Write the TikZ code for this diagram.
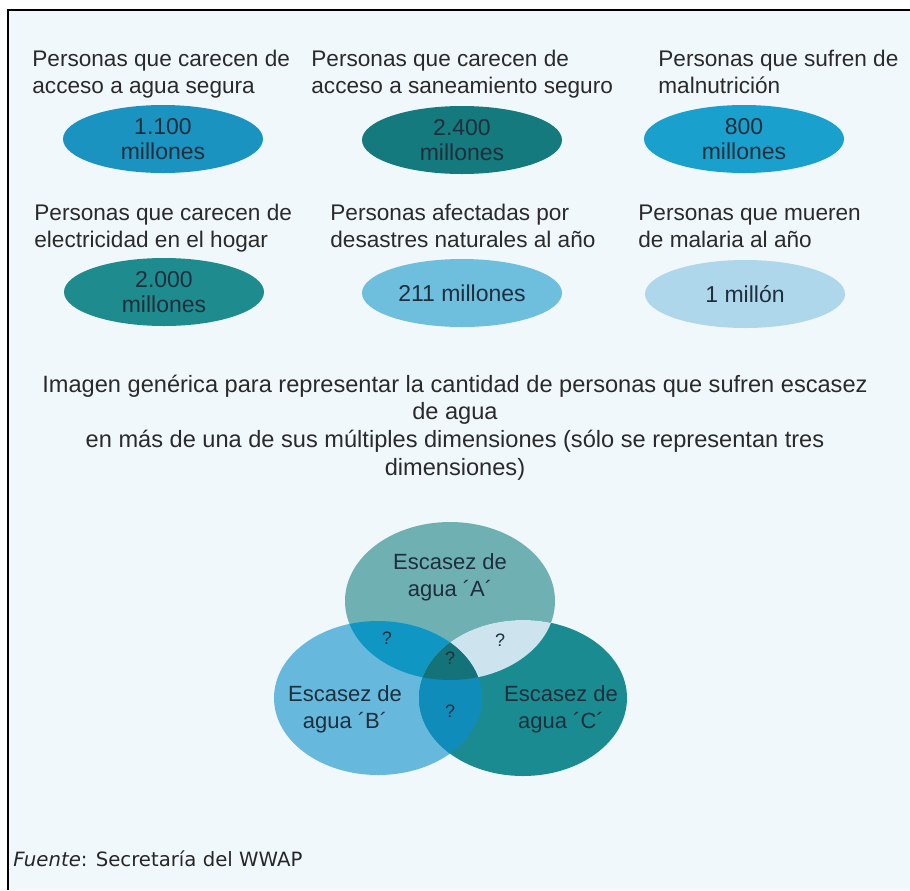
\documentclass[tikz,border=0pt]{standalone}
\usepackage{fontspec}
\setmainfont{Liberation Sans}
\newfontfamily\fuentefont{DejaVu Sans}
\usetikzlibrary{shapes.geometric}

\definecolor{bgblue}{HTML}{F1F8FB}
\definecolor{labgray}{HTML}{2A2A2A}
\definecolor{numtxt}{HTML}{1F2E3C}
\definecolor{eone}{HTML}{1B93C0}
\definecolor{etwo}{HTML}{147A7D}
\definecolor{ethree}{HTML}{1AA0CD}
\definecolor{efour}{HTML}{1E8C8E}
\definecolor{efive}{HTML}{6EBEDE}
\definecolor{esix}{HTML}{AFD7EB}
\definecolor{vennA}{HTML}{6FB0B3}
\definecolor{vennB}{HTML}{66B9DC}
\definecolor{vennC}{HTML}{1A8C91}
\definecolor{vennAB}{HTML}{1096C3}
\definecolor{vennAC}{HTML}{CDE4EE}
\definecolor{vennBC}{HTML}{0F8CB9}
\definecolor{vennABC}{HTML}{147378}

\tikzset{
  lab/.style={anchor=base west, align=left, inner sep=0pt, text=labgray,
    font=\fontsize{11.3}{13.5}\selectfont},
  stat/.style={ellipse, minimum width=100pt, minimum height=34pt, inner sep=0pt,
    align=center, text=numtxt, font=\fontsize{11.5}{12.5}\selectfont},
  venntext/.style={align=center, inner sep=0pt, text=numtxt,
    font=\fontsize{11}{13.5}\selectfont},
  qmark/.style={inner sep=0pt, text=numtxt, font=\fontsize{9}{10}\selectfont}
}

\newcommand\shapeA{(450,601) ellipse [x radius=105, y radius=79]}
\newcommand\shapeB{(378,698) ellipse [x radius=104, y radius=77]}
\newcommand\shapeC{(523,698) ellipse [x radius=104, y radius=78]}

\begin{document}
\begin{tikzpicture}[x=0.5pt, y=-0.5pt]
\useasboundingbox (0,0) rectangle (910,890);
\fill[bgblue] (8,10) rectangle (910,890);
\draw[line width=1pt] (8,890) -- (8,10) -- (910,10);

\node[lab] (agua) at (32,93) {Personas que carecen de\\acceso a agua segura};
\node[lab] (sanea) at (311,93) {Personas que carecen de\\acceso a saneamiento seguro};
\node[lab] (malnu) at (658,93) {Personas que sufren de\\malnutrición};
\node[lab] (elec) at (34,247) {Personas que carecen de\\electricidad en el hogar};
\node[lab] (desas) at (330,247) {Personas afectadas por\\desastres naturales al año};
\node[lab] (malar) at (638,247) {Personas que mueren\\de malaria al año};

\node[stat, fill=eone] (nagua) at (163,139) {1.100\\millones};
\node[stat, fill=etwo] (nsanea) at (462,140) {2.400\\millones};
\node[stat, fill=ethree] (nmalnu) at (744,139) {800\\millones};
\node[stat, fill=efour] (nelec) at (164,292) {2.000\\millones};
\node[stat, fill=efive] (ndesas) at (462,293) {211 millones};
\node[stat, fill=esix] (nmalar) at (745,294) {1 millón};

\node[anchor=base, align=center, inner sep=0pt, text=labgray,
  font=\fontsize{11.8}{13.8}\selectfont] (imagen) at (455,475)
  {Imagen genérica para representar la cantidad de personas que sufren escasez\\de agua\\en más de una de sus múltiples dimensiones (sólo se representan tres\\dimensiones)};

\fill[vennA] \shapeA;
\fill[vennB] \shapeB;
\fill[vennC] \shapeC;
\begin{scope}
\clip \shapeA;
\fill[vennAB] \shapeB;
\fill[vennAC] \shapeC;
\end{scope}
\begin{scope}
\clip \shapeB;
\fill[vennBC] \shapeC;
\end{scope}
\begin{scope}
\clip \shapeA;
\clip \shapeB;
\fill[vennABC] \shapeC;
\end{scope}

\node[venntext] (escA) at (450,577) {Escasez de\\agua ´A´};
\node[venntext] (escB) at (345,709) {Escasez de\\agua ´B´};
\node[venntext] (escC) at (561,709) {Escasez de\\agua ´C´};
\node[qmark] (qAB) at (387,638) {?};
\node[qmark] (qAC) at (500,640) {?};
\node[qmark] (qABC) at (450,658) {?};
\node[qmark] (qBC) at (450,711) {?};

\node[anchor=base west, inner sep=0pt, text=black!85,
  font=\fuentefont\fontsize{9.85}{11}\selectfont] (fuente) at (13,866)
  {\textit{Fuente}: Secretaría del WWAP};
\end{tikzpicture}
\end{document}
